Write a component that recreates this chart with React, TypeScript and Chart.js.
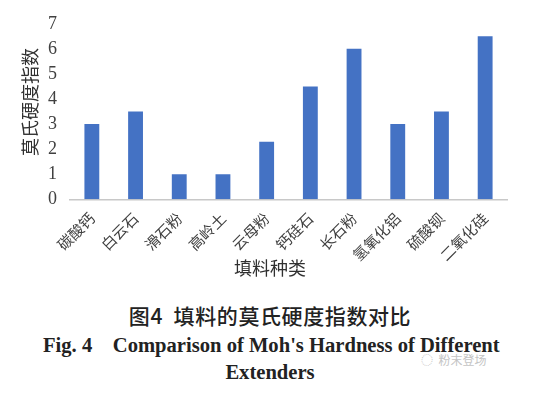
import React, { useEffect, useRef } from "react";
import { Chart, registerables } from "chart.js";

Chart.register(...registerables);

const categories = ["碳酸钙", "白云石", "滑石粉", "高岭土", "云母粉", "钙硅石", "长石粉", "氢氧化铝", "硫酸钡", "二氧化硅"];
const hardness = [3, 3.5, 1, 1, 2.3, 4.5, 6, 3, 3.5, 6.5];
const yTitle = "莫氏硬度指数";
const xTitle = "填料种类";
const captionCn = "图4  填料的莫氏硬度指数对比";
const captionEn1 = "Fig. 4    Comparison of Moh's Hardness of Different";
const captionEn2 = "Extenders";
const watermark = "粉末登场";

export default function App() {
  const ref = useRef<HTMLCanvasElement | null>(null);
  useEffect(() => {
    if (!ref.current) return;
    const chart = new Chart(ref.current, {
      type: "bar",
      data: {
        labels: categories,
        datasets: [
          {
            data: hardness,
            backgroundColor: "#4472C4",
            categoryPercentage: 1,
            barPercentage: 0.34,
          },
        ],
      },
      options: {
        animation: false,
        responsive: false,
        layout: { autoPadding: false, padding: { top: 18.7, left: 0, right: 29, bottom: 0 } },
        plugins: { legend: { display: false }, tooltip: { enabled: false } },
        scales: {
          x: {
            grid: { display: false, drawTicks: false },
            border: { display: true, color: "#c8c8c8", width: 1.5 },
            afterFit: (scale: any) => {
              scale.height = 80.7;
            },
            ticks: {
              minRotation: 45,
              maxRotation: 45,
              color: "#404040",
              padding: 10,
              font: { family: "'Noto Sans CJK SC'", size: 15 },
            },
          },
          y: {
            min: 0,
            max: 7,
            grid: { display: false, drawTicks: false },
            border: { display: false },
            afterFit: (scale: any) => {
              scale.width = 70;
            },
            ticks: {
              stepSize: 1,
              color: "#404040",
              padding: 13,
              font: { family: "'Liberation Serif'", size: 18 },
            },
          },
        },
      },
    });
    return () => chart.destroy();
  }, []);

  return (
    <div style={{ position: "absolute", left: 0, top: 0, width: 536, height: 393, background: "#fff" }}>
      <canvas ref={ref} width={536} height={280} style={{ position: "absolute", left: 0, top: 0 }} />
      <div
        style={{
          position: "absolute",
          left: 29 - 60,
          top: 102 - 12,
          width: 120,
          height: 24,
          lineHeight: "24px",
          textAlign: "center",
          transform: "rotate(-90deg)",
          fontFamily: "'Noto Sans CJK SC'",
          fontSize: 18,
          color: "#303030",
          whiteSpace: "nowrap",
        }}
      >
        {yTitle}
      </div>
      <div
        style={{
          position: "absolute",
          left: 270 - 60,
          top: 267 - 12,
          width: 120,
          lineHeight: "24px",
          textAlign: "center",
          fontFamily: "'Noto Sans CJK SC'",
          fontSize: 18,
          color: "#303030",
        }}
      >
        {xTitle}
      </div>
      <div
        style={{
          position: "absolute",
          left: 0,
          width: 540,
          top: 315 - 14,
          textAlign: "center",
          whiteSpace: "pre",
          fontFamily: "'Noto Sans CJK SC'",
          fontSize: 21,
          letterSpacing: 0.6,
          fontWeight: 500,
          color: "#222",
          lineHeight: "28px",
        }}
      >
        {captionCn}
      </div>
      <div
        style={{
          position: "absolute",
          left: 43,
          top: 345 - 13,
          whiteSpace: "pre",
          fontFamily: "'Liberation Serif'",
          fontSize: 20.6,
          fontWeight: "bold",
          color: "#222",
          lineHeight: "26px",
        }}
      >
        {captionEn1}
      </div>
      <div
        style={{
          position: "absolute",
          left: 0,
          width: 540,
          top: 372 - 13,
          textAlign: "center",
          fontFamily: "'Liberation Serif'",
          fontSize: 20.6,
          fontWeight: "bold",
          color: "#222",
          lineHeight: "26px",
        }}
      >
        {captionEn2}
      </div>
      <div
        style={{
          position: "absolute",
          left: 421,
          top: 352,
          fontFamily: "'Noto Sans CJK SC'",
          fontSize: 12,
          color: "#c4c4c4",
          lineHeight: "16px",
          whiteSpace: "pre",
        }}
      >
        {"◌  " + watermark}
      </div>
    </div>
  );
}
